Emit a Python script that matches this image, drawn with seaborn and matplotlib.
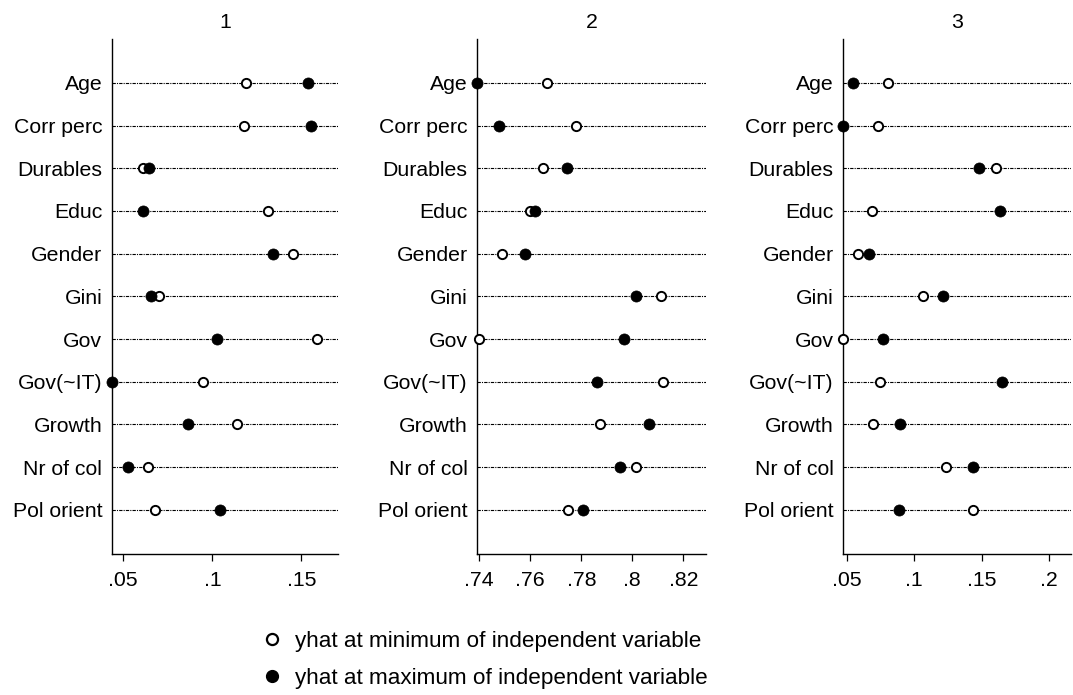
import matplotlib
matplotlib.use("Agg")
import matplotlib.pyplot as plt
from matplotlib.lines import Line2D
from matplotlib.ticker import FixedLocator, FuncFormatter
import seaborn as sns
import pandas as pd

categories = ["Age", "Corr perc", "Durables", "Educ", "Gender", "Gini", "Gov",
              "Gov(~IT)", "Growth", "Nr of col", "Pol orient"]
panel_titles = ["1", "2", "3"]

p1_min = [0.1188, 0.1180, 0.0612, 0.1315, 0.1451, 0.0701, 0.1590, 0.0949, 0.1140, 0.0637, 0.0676]
p1_max = [0.1539, 0.1556, 0.0643, 0.0612, 0.1339, 0.0654, 0.1025, 0.0435, 0.0865, 0.0526, 0.1043]
p2_min = [0.7667, 0.7781, 0.7649, 0.7598, 0.7488, 0.8114, 0.7400, 0.8119, 0.7874, 0.8016, 0.7747]
p2_max = [0.7392, 0.7479, 0.7743, 0.7619, 0.7579, 0.8013, 0.7969, 0.7863, 0.8065, 0.7953, 0.7808]
p3_min = [0.0804, 0.0732, 0.1606, 0.0684, 0.0587, 0.1063, 0.0475, 0.0745, 0.0698, 0.1233, 0.1433]
p3_max = [0.0545, 0.0475, 0.1482, 0.1638, 0.0663, 0.1214, 0.0770, 0.1648, 0.0894, 0.1438, 0.0889]

p1_ticks = [0.05, 0.10, 0.15]
p2_ticks = [0.74, 0.76, 0.78, 0.80, 0.82]
p3_ticks = [0.05, 0.10, 0.15, 0.20]

legend_labels = ["yhat at minimum of independent variable",
                 "yhat at maximum of independent variable"]

sns.set_style("white")
plt.rcParams["font.family"] = ["Liberation Sans", "DejaVu Sans"]
plt.rcParams["text.color"] = "black"
plt.rcParams["axes.labelcolor"] = "black"
plt.rcParams["xtick.color"] = "black"
plt.rcParams["ytick.color"] = "black"

FS = 15.3
LFS = 16.2
W, H = 1073, 695
fig = plt.figure(figsize=(W / 100, H / 100), dpi=100)

panels = [
    (p1_min, p1_max, p1_ticks, (0.04365, 0.1706), (112, 338)),
    (p2_min, p2_max, p2_ticks, (0.73922, 0.8289), (477.3, 706)),
    (p3_min, p3_max, p3_ticks, (0.04748, 0.2163), (843.3, 1071)),
]
top_px, bot_px = 39.3, 554.3

def fmt(v, pos):
    s = ("%.2f" % v).rstrip("0").rstrip(".")
    if s.startswith("0."):
        s = s[1:]
    return s

for title, (vmin, vmax, ticks, xlim, (l, r)) in zip(panel_titles, panels):
    ax = fig.add_axes([l / W, 1 - bot_px / H, (r - l) / W, (bot_px - top_px) / H])
    df = pd.DataFrame({"cat": categories, "vmin": vmin, "vmax": vmax})
    for i in range(len(categories)):
        ax.axhline(i, color="black", lw=0.8, ls=(0, (3, 1, 1, 1)), zorder=1)
    sns.scatterplot(data=df, x="vmin", y="cat", ax=ax, marker="o", s=44,
                    facecolor="white", edgecolor="black", linewidth=1.4,
                    zorder=3, clip_on=False)
    sns.scatterplot(data=df, x="vmax", y="cat", ax=ax, marker="o", s=64,
                    color="black", edgecolor="black", linewidth=0.5,
                    zorder=4, clip_on=False)
    ax.set_xlim(*xlim)
    ax.set_ylim(len(categories) - 1 + 1.04, -1.02)
    ax.xaxis.set_major_locator(FixedLocator(ticks))
    ax.xaxis.set_major_formatter(FuncFormatter(fmt))
    ax.set_xlabel("")
    ax.set_ylabel("")
    ax.set_title(title, fontsize=FS, pad=8, color="black")
    for sp in ["top", "right"]:
        ax.spines[sp].set_visible(False)
    for sp in ["left", "bottom"]:
        ax.spines[sp].set_color("black")
        ax.spines[sp].set_linewidth(1.0)
    ax.tick_params(axis="x", bottom=True, direction="out", length=5, width=0.9,
                   color="black", labelcolor="black", labelsize=FS, pad=7)
    ax.tick_params(axis="y", left=False, length=0, labelcolor="black",
                   labelsize=FS, pad=7)
    ax.set_facecolor("white")

handles = [
    Line2D([], [], ls="none", marker="o", markersize=8, markerfacecolor="white",
           markeredgecolor="black", markeredgewidth=1.6),
    Line2D([], [], ls="none", marker="o", markersize=8.5, markerfacecolor="black",
           markeredgecolor="black"),
]
fig.legend(handles, legend_labels, loc="upper left",
           bbox_to_anchor=(260.4 / W, 1 - 631 / H), frameon=False, fontsize=LFS,
           handlelength=1.0, handletextpad=0.54, borderpad=0, borderaxespad=0,
           labelspacing=0.72)

fig.savefig("out.png", dpi=100, facecolor="white")
